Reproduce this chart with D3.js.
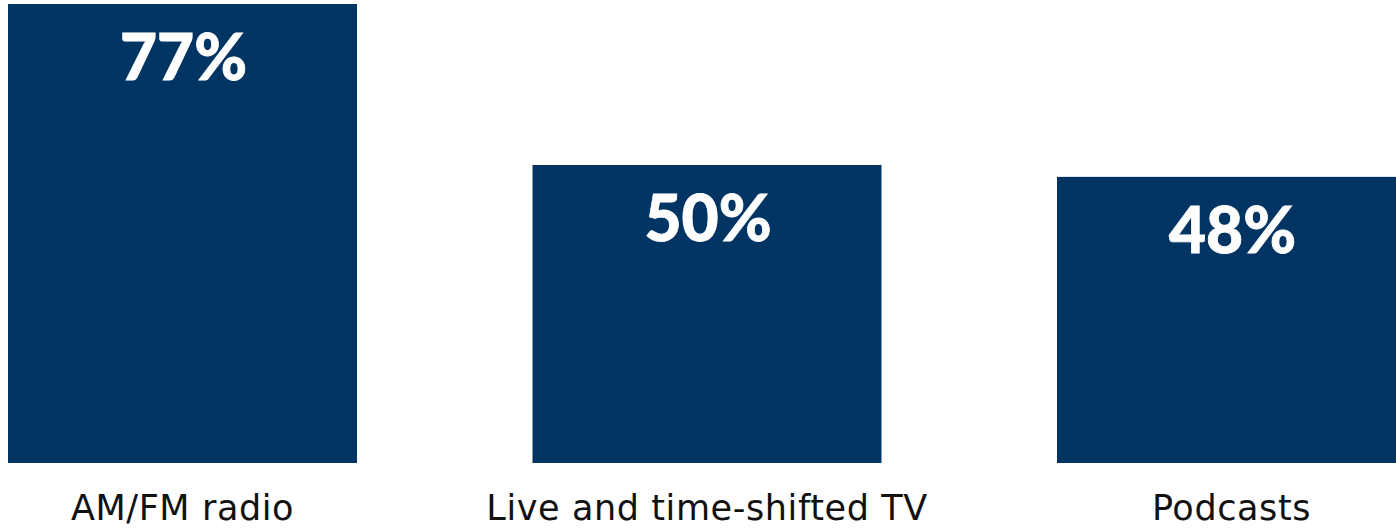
<!DOCTYPE html>
<html><head><meta charset="utf-8">
<script src="https://cdn.jsdelivr.net/npm/d3@7"></script>
<style>html,body{margin:0;padding:0;background:#fff;overflow:hidden}</style>
</head><body>
<svg id="chart" width="1396" height="528"></svg>
<script>
const categories = ["AM/FM radio", "Live and time-shifted TV", "Podcasts"];
const values = [77, 50, 48];
const valueLabels = ["77%", "50%", "48%"];

const svg = d3.select("#chart");
const x = d3.scaleBand().domain(categories).range([8, 1406]).paddingInner(0.3346).paddingOuter(0);
const y = d3.scaleLinear().domain([0, 77]).range([463, 4]);

svg.selectAll("rect.bar").data(categories).enter().append("rect")
  .attr("class","bar")
  .attr("x", d => x(d))
  .attr("width", x.bandwidth())
  .attr("y", (d,i) => y(values[i]))
  .attr("height", (d,i) => y(0) - y(values[i]))
  .attr("fill", "#003462");

svg.selectAll("text.val").data(categories).enter().append("text")
  .attr("class","val")
  .attr("x", d => x(d) + x.bandwidth()/2 + 1)
  .attr("y", (d,i) => y(values[i]) + 76)
  .attr("text-anchor","middle")
  .attr("font-family","Lato, 'DejaVu Sans', sans-serif")
  .attr("font-weight", 900)
  .attr("font-size", 64)
  .attr("stroke", "#fff")
  .attr("stroke-width", 0.8)
  .attr("fill","#fff")
  .text((d,i) => valueLabels[i]);

const xAxis = d3.axisBottom(x).tickSize(0).tickPadding(0);
const g = svg.append("g").attr("transform", "translate(0,463)").call(xAxis);
g.select(".domain").remove();
g.selectAll(".tick text")
  .attr("y", 57)
  .attr("dy", 0)
  .attr("font-family","'DejaVu Sans', sans-serif")
  .attr("font-size", 35)
  .attr("letter-spacing", 0.6)
  .attr("fill","#111");
</script>
</body></html>
